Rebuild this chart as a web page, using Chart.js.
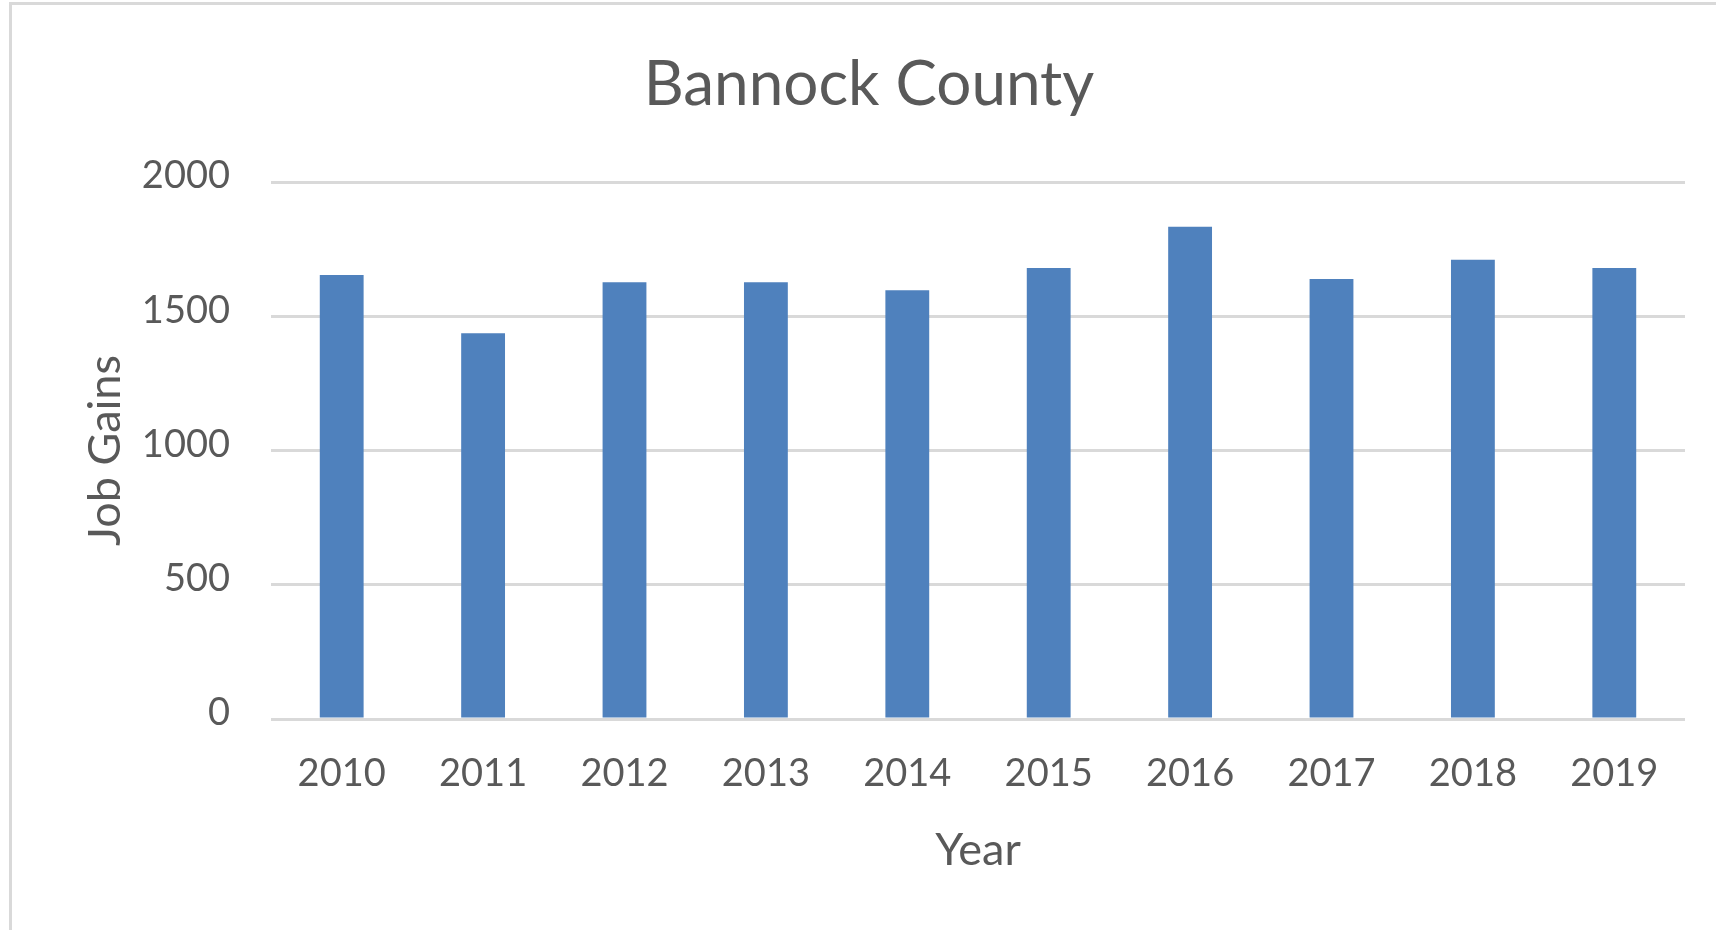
<!DOCTYPE html>
<html>
<head>
  <title>Bannock County Job Gains</title>
  <script src="https://cdn.jsdelivr.net/npm/chart.js"></script>
  <style>
    body {
      margin: 0;
      background: #fff;
      overflow: hidden;
    }
    #frame {
      position: absolute;
      left: 9px;
      top: 2px;
      width: 1800px;
      height: 1000px;
      border-left: 3px solid #d9d9d9;
      border-top: 3px solid #d9d9d9;
    }
    canvas {
      position: absolute;
      left: 0;
      top: 0;
    }
  </style>
</head>
<body>
  <div id="frame"></div>
  <canvas id="jobChart" width="1716" height="930"></canvas>

  <script>
    const years = ['2010', '2011', '2012', '2013', '2014', '2015', '2016', '2017', '2018', '2019'];
    const jobGains = [1654, 1437, 1627, 1627, 1597, 1680, 1833, 1639, 1710, 1680];
    const yTicks = [0, 500, 1000, 1500, 2000];

    const textColor = '#595959';
    const fontName = 'Lato, "Open Sans", sans-serif';

    const ctx = document.getElementById('jobChart').getContext('2d');
    const jobChart = new Chart(ctx, {
      type: 'bar',
      data: {
        labels: years,
        datasets: [{
          label: 'Job Gains',
          data: jobGains,
          backgroundColor: '#4f81bd',
          borderWidth: 0,
          categoryPercentage: 1,
          barPercentage: 0.31
        }]
      },
      options: {
        responsive: false,
        animation: false,
        devicePixelRatio: 1,
        layout: {
          // left/right chosen so the title sits where the original has it
          padding: { left: 53, right: 31, top: 0, bottom: 0 }
        },
        plugins: {
          legend: { display: false },
          tooltip: { enabled: false },
          title: {
            display: true,
            text: 'Bannock County',
            color: textColor,
            font: { family: fontName, size: 62, weight: 'normal', lineHeight: 1.2 },
            padding: { top: 48, bottom: 59.6 }
          }
        },
        scales: {
          x: {
            grid: { display: false },
            border: { display: false },
            ticks: {
              color: textColor,
              font: { family: fontName, size: 38 },
              padding: 23.5,
              maxRotation: 0,
              autoSkip: false
            },
            title: {
              display: true,
              text: 'Year',
              color: textColor,
              font: { family: fontName, size: 45, lineHeight: 1.2 },
              padding: { top: 0, bottom: 53 }
            },
            afterFit: function(scale) {
              scale.height = 211;
            }
          },
          y: {
            min: yTicks[0],
            max: yTicks[yTicks.length - 1],
            afterBuildTicks: function(scale) {
              scale.ticks = yTicks.map(v => ({ value: v }));
            },
            grid: {
              color: '#d9d9d9',
              lineWidth: 3,
              drawTicks: false
            },
            border: { display: false },
            ticks: {
              color: textColor,
              font: { family: fontName, size: 38 },
              padding: 41,
              labelOffset: -6,
              callback: function(value) {
                return String(value);
              }
            },
            title: {
              display: true,
              text: 'Job Gains',
              color: textColor,
              font: { family: fontName, size: 45, lineHeight: 1.2 },
              padding: { top: 25, bottom: 0 }
            },
            afterFit: function(scale) {
              scale.width = 218;
            }
          }
        }
      }
    });
  </script>
</body>
</html>
